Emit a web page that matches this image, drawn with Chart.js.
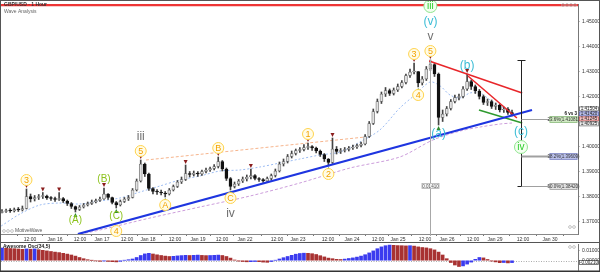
<!DOCTYPE html>
<html><head><meta charset="utf-8">
<script src="https://cdn.jsdelivr.net/npm/chart.js@4.4.1/dist/chart.umd.min.js"></script>
<style>
html,body{margin:0;padding:0;background:#fff;}
#wrap{position:relative;width:600px;height:272px;overflow:hidden;background:#fff;}
#c1{position:absolute;left:0;top:0;}
#c2{position:absolute;left:0;top:243px;}
</style></head><body>
<div id="wrap"><canvas id="c1" width="600" height="243"></canvas><canvas id="c2" width="600" height="29"></canvas></div>
<script>
// ---------------- DATA ----------------
const firstOpen = 1.3736;
const closes = [
1.3740,1.3744,1.3742,1.3748,1.3746,1.3752,1.3800,1.3790,1.3796,1.3800,
1.3802,1.3794,1.3792,1.3788,1.3792,1.3782,1.3772,1.3760,1.3748,1.3758,
1.3766,1.3772,1.3778,1.3784,1.3790,1.3810,1.3796,1.3776,1.3766,1.3780,
1.3790,1.3796,1.3826,1.3862,1.3930,1.3890,1.3832,1.3820,1.3818,1.3814,
1.3810,1.3826,1.3840,1.3858,1.3868,1.3892,1.3888,1.3894,1.3890,1.3900,
1.3906,1.3912,1.3920,1.3940,1.3910,1.3872,1.3840,1.3850,1.3862,1.3870,
1.3878,1.3884,1.3872,1.3868,1.3862,1.3872,1.3884,1.3902,1.3930,1.3940,
1.3960,1.3972,1.3984,1.3988,1.3996,1.4000,1.3994,1.3982,1.3968,1.3950,
1.3936,1.3990,1.3980,1.3984,1.3988,1.3994,1.3998,1.4004,1.4010,1.4040,
1.4092,1.4140,1.4180,1.4210,1.4224,1.4212,1.4226,1.4240,1.4256,1.4284,
1.4298,1.4300,1.4254,1.4270,1.4310,1.4328,1.4290,1.4116,1.4130,1.4152,
1.4180,1.4196,1.4200,1.4230,1.4260,1.4240,1.4222,1.4200,1.4176,1.4180,
1.4160,1.4166,1.4146,1.4150,1.4136,1.4128];
const highs = [
1.3748,1.3750,1.3752,1.3754,1.3756,1.3762,1.3830,1.3810,1.3804,1.3808,
1.3816,1.3806,1.3800,1.3798,1.3816,1.3796,1.3786,1.3776,1.3762,1.3764,
1.3772,1.3778,1.3786,1.3790,1.3798,1.3834,1.3812,1.3798,1.3780,1.3786,
1.3796,1.3804,1.3832,1.3870,1.3946,1.3934,1.3894,1.3836,1.3828,1.3826,
1.3820,1.3832,1.3846,1.3864,1.3878,1.3926,1.3900,1.3902,1.3900,1.3906,
1.3914,1.3918,1.3928,1.3958,1.3944,1.3914,1.3876,1.3858,1.3868,1.3878,
1.3886,1.3910,1.3888,1.3876,1.3872,1.3878,1.3890,1.3910,1.3938,1.3950,
1.3968,1.3982,1.3990,1.3996,1.4008,1.4014,1.4004,1.3998,1.3986,1.3972,
1.3952,1.4034,1.4000,1.3992,1.3996,1.4000,1.4006,1.4010,1.4018,1.4048,
1.4100,1.4150,1.4190,1.4218,1.4236,1.4230,1.4234,1.4250,1.4264,1.4290,
1.4310,1.4334,1.4300,1.4280,1.4320,1.4346,1.4332,1.4294,1.4146,1.4160,
1.4188,1.4206,1.4210,1.4240,1.4290,1.4266,1.4246,1.4228,1.4206,1.4190,
1.4186,1.4174,1.4170,1.4158,1.4156,1.4146];
const lows = [
1.3734,1.3736,1.3736,1.3738,1.3740,1.3742,1.3750,1.3778,1.3782,1.3788,
1.3792,1.3788,1.3784,1.3780,1.3784,1.3776,1.3764,1.3752,1.3738,1.3744,
1.3754,1.3762,1.3768,1.3774,1.3780,1.3788,1.3788,1.3770,1.3754,1.3762,
1.3776,1.3784,1.3794,1.3822,1.3858,1.3880,1.3824,1.3810,1.3808,1.3806,
1.3798,1.3806,1.3822,1.3836,1.3852,1.3864,1.3878,1.3882,1.3880,1.3884,
1.3894,1.3900,1.3906,1.3914,1.3902,1.3864,1.3826,1.3834,1.3844,1.3856,
1.3862,1.3870,1.3866,1.3860,1.3856,1.3858,1.3866,1.3878,1.3898,1.3922,
1.3934,1.3954,1.3966,1.3976,1.3982,1.3988,1.3984,1.3974,1.3960,1.3940,
1.3922,1.3932,1.3970,1.3972,1.3978,1.3982,1.3988,1.3992,1.3998,1.4006,
1.4036,1.4088,1.4134,1.4172,1.4200,1.4204,1.4206,1.4220,1.4234,1.4250,
1.4276,1.4290,1.4238,1.4246,1.4264,1.4304,1.4280,1.4086,1.4100,1.4122,
1.4146,1.4174,1.4186,1.4194,1.4224,1.4228,1.4212,1.4190,1.4168,1.4164,
1.4152,1.4148,1.4138,1.4136,1.4128,1.4122];
const aoValues = [
0.0125,0.0123,0.0120,0.0118,0.0115,0.0112,0.0116,0.0113,0.0116,0.0108,
0.0102,0.0096,0.0090,0.0084,0.0079,0.0072,0.0064,0.0055,0.0044,0.0030,
0.0018,0.0008,0.0001,-0.0004,-0.0008,-0.0005,-0.0009,-0.0012,-0.0014,-0.0008,
0.0002,0.0008,0.0015,0.0030,0.0050,0.0066,0.0072,0.0065,0.0057,0.0050,
0.0044,0.0040,0.0042,0.0046,0.0049,0.0052,0.0050,0.0052,0.0054,0.0051,
0.0049,0.0050,0.0052,0.0054,0.0050,0.0040,0.0024,0.0005,-0.0006,-0.0010,
-0.0013,-0.0012,-0.0010,-0.0012,-0.0016,-0.0018,-0.0010,0.0002,0.0015,0.0028,
0.0040,0.0052,0.0063,0.0070,0.0073,0.0072,0.0068,0.0060,0.0048,0.0036,
0.0024,0.0018,0.0012,0.0010,0.0014,0.0020,0.0026,0.0034,0.0044,0.0058,
0.0076,0.0096,0.0118,0.0136,0.0148,0.0154,0.0152,0.0149,0.0148,0.0146,
0.0148,0.0144,0.0136,0.0130,0.0126,0.0118,0.0106,0.0084,0.0055,0.0018,
-0.0020,-0.0045,-0.0060,-0.0054,-0.0036,-0.0016,0.0012,0.0030,0.0026,0.0010,
-0.0006,-0.0014,-0.0022,-0.0020,-0.0024,-0.0021];

const tickPos = [6.86,12.99,19.12,24.51,30.64,35.78,42.4,48.04,53.92,59.56,67.4,72.55,79.9,85.78,92.16,97.06,103.68,109.07,115.44,120.83,127.7,134.3];
const tickLabels = ['12:00','Jan 16','12:00','Jan 17','12:00','Jan 18','12:00','Jan 19','12:00','Jan 22','12:00','Jan 23','12:00','Jan 24','12:00','Jan 25','12:00','Jan 26','12:00','Jan 29','12:00','Jan 30'];

const maFastX = [-0.2,4.4,9.3,14.2,19.1,24,28.9,33.8,38.7,43.6,48.5,53.4,58.3,63.2,68.1,73,77.9,82.8,87.7,92.6,97.5,101.2,104.9,107.4,109.8,112.3,114.7,117.2,119.6,122.1,125];
const maFastY = [1.3682,1.3730,1.3766,1.3774,1.3770,1.3782,1.3794,1.3818,1.3842,1.3866,1.3882,1.3902,1.3906,1.3918,1.3934,1.3950,1.3966,1.3978,1.4018,1.4066,1.4154,1.4206,1.4258,1.4242,1.4206,1.4194,1.4214,1.4214,1.4186,1.4162,1.4138];
const maSlowX = [16.7,24,36.3,48.5,60.8,73,85.3,97.5,105.6,112.3,117.2,122.1,125];
const maSlowY = [1.3642,1.3666,1.3714,1.3758,1.3802,1.3854,1.3914,1.3958,1.4026,1.4062,1.4078,1.4090,1.4094];

const trendBlueX = [18.6,129.9], trendBlueY = [1.3650,1.4146];
const orangeX = [35.3,89], orangeY = [1.3946,1.4038];
const red1X = [104.7,127.5], red1Y = [1.4342,1.4214];
const red2X = [114.2,126.2], red2Y = [1.4282,1.4114];
const greenX = [116.9,127.5], greenY = [1.4146,1.4094];
const resistance = 1.4566;

const markHigh = [6,10,14,25,34,45,53,61,75,81,101,105,114];
const markLow = [18,28,40,56,80,102,107];

const waveIdx  = [6,18,25,28,34,40,53,56,75,80,101,102,105,107,114];
const waveSide = ['H','L','H','L','H','L','H','L','H','L','H','L','H','L','H'];
const waveText = [['3'],['(A)'],['(B)'],['(C)','4'],['5','iii'],['A'],['B'],['C','iv'],['1'],['2'],['3'],['4'],['5','v','(v)','iii'],['(a)'],['(b)']];
const waveDeg  = [['o'],['G'],['G'],['G','o'],['o','r'],['o'],['o'],['o','r'],['o'],['o'],['o'],['o'],['o','r','c','g'],['c'],['c']];
const projIdx = 127.2, projPrice = [1.4062,1.3998], projText = ['(c)','iv'], projDeg = ['c','g'];

const fibIdx = 127.2, fibTop = 1.4346, fibBase = 1.3338;
const fibLevels = [0.236,0.382,0.5];
const priceTags = [1.41504,1.41420,1.41245,1.40925];
const yMin = 1.365, yMax = 1.457;
const xMin = -0.245, xMax = 141.175;

// ---------------- helpers ----------------
const FONT = '"Liberation Sans", Arial, sans-serif';
const opens = closes.map((c,i)=> i===0 ? firstOpen : closes[i-1]);
const pts = (xs,ys)=> xs.map((x,i)=>({x:x, y:ys[i]}));
const DEG = {
  o:{circle:true,r:5.5,fill:'#fffce8',ring:'#ffd34d',color:'#f3a200',font:'9px '+FONT},
  G:{circle:false,color:'#8cc21c',font:'10px '+FONT},
  r:{circle:false,color:'#707070',font:'12px '+FONT},
  c:{circle:false,color:'#3dbdd6',font:'12px '+FONT},
  g:{circle:true,r:6.5,fill:'#f3fff0',ring:'#8fe48f',color:'#2ccc2c',font:'10px '+FONT}
};
function drawLabel(ctx,x,y,t,d){
  const s = DEG[d];
  if(s.circle){ctx.beginPath();ctx.arc(x,y,s.r,0,Math.PI*2);ctx.fillStyle=s.fill;ctx.fill();ctx.lineWidth=1;ctx.strokeStyle=s.ring;ctx.stroke();}
  ctx.font=s.font;ctx.fillStyle=s.color;ctx.textAlign='center';ctx.textBaseline='middle';ctx.fillText(t,x,y+0.5);
}
function tri(ctx,x,y,down,col){
  ctx.beginPath();
  if(down){ctx.moveTo(x-2,y-4);ctx.lineTo(x+2,y-4);ctx.lineTo(x,y);}else{ctx.moveTo(x-2,y+4);ctx.lineTo(x+2,y+4);ctx.lineTo(x,y);}
  ctx.closePath();ctx.fillStyle=col;ctx.fill();
}
function box(ctx,x,y,w,h,fill,stroke,text,tcol,align){
  ctx.fillStyle=fill;ctx.fillRect(x,y,w,h);ctx.strokeStyle=stroke;ctx.lineWidth=0.7;ctx.strokeRect(x+0.5,y+0.5,w-1,h-1);
  ctx.fillStyle=tcol;ctx.font='4.5px '+FONT;ctx.textBaseline='middle';ctx.textAlign=align||'center';
  ctx.fillText(text, align==='left'? x+2 : x+w/2, y+h/2+0.3);
}
function icons(ctx,x,y,n){ctx.strokeStyle='#aaa';ctx.lineWidth=0.7;for(let k=0;k<n;k++){ctx.beginPath();ctx.arc(x+k*4,y,1.4,0,Math.PI*2);ctx.stroke();}}

const overlay = {
  id:'overlay',
  afterDatasetsDraw(chart){
    const ctx=chart.ctx, xs=chart.scales.x, ys=chart.scales.y, ca=chart.chartArea;
    const X=v=>xs.getPixelForValue(v), Y=v=>ys.getPixelForValue(v);
    ctx.save();
    const vx=Math.round(X(105))+0.5;
    ctx.strokeStyle='#a8a8a8';ctx.lineWidth=1;ctx.beginPath();ctx.moveTo(vx,Y(highs[105]));ctx.lineTo(vx,ca.bottom+2);ctx.stroke();
    box(ctx,vx-9,Y(1.3842)-3,18,6,'#f4f4f4','#aaa','0.01410','#555');
    const fx=Math.round(X(fibIdx))+0.5;
    const lv=fibLevels.map(l=>fibTop-(fibTop-fibBase)*l);
    ctx.strokeStyle='#222';ctx.lineWidth=1;ctx.beginPath();
    ctx.moveTo(fx,Y(fibTop));ctx.lineTo(fx,Y(lv[2]));
    ctx.moveTo(fx-4,Math.round(Y(fibTop))+0.5);ctx.lineTo(fx+4,Math.round(Y(fibTop))+0.5);
    ctx.moveTo(fx-4,Math.round(Y(lv[2]))+0.5);ctx.lineTo(fx+4,Math.round(Y(lv[2]))+0.5);
    ctx.stroke();
    const fills=['#cfe9c2','#b9bfe9','#e2e2e2'], strokes=['#86b57a','#8088c0','#9a9a9a'];
    lv.forEach((p,k)=>{
      const yy=Math.round(Y(p))+0.5;
      ctx.strokeStyle='#a0a0a0';ctx.lineWidth=k===1?2:1;ctx.beginPath();ctx.moveTo(fx,yy);ctx.lineTo(fx+28,yy);ctx.stroke();
      box(ctx,fx+28,yy-3.5,28,7,fills[k],strokes[k],(fibLevels[k]*100).toFixed(1)+'%('+p.toFixed(5)+')','#333');
    });
    ctx.fillStyle='#111';ctx.font='bold 4.5px '+FONT;ctx.textAlign='right';ctx.textBaseline='bottom';
    ctx.fillText('6 vs 3',ca.right-1,Math.round(Y(lv[0]))-3);
    markHigh.forEach(i=>tri(ctx,X(i),Y(highs[i])-1,true,'#8a1d1d'));
    markLow.forEach(i=>tri(ctx,X(i),Y(lows[i])+1,false,'#2e8a2e'));
    waveIdx.forEach((i,k)=>{
      const hi=waveSide[k]==='H'; const base=hi?Y(highs[i]):Y(lows[i]);
      waveText[k].forEach((t,j)=>{const yy=hi?base-9-15*j:base+8+15*j;drawLabel(ctx,X(i),yy,t,waveDeg[k][j]);});
    });
    projText.forEach((t,j)=>drawLabel(ctx,X(projIdx),Y(projPrice[j]),t,projDeg[j]));
    const tagFill=['#ffffff','#b9bfe9','#f3c4c4','#eeeeee'], tagStroke=['#555','#5a62a8','#c05050','#777'];
    let prev=-99;
    priceTags.forEach((p,k)=>{
      let yy=Y(p); if(yy<prev+5) yy=prev+5; prev=yy;
      box(ctx,ca.right+1,yy-2.5,20,5,tagFill[k],tagStroke[k],p.toFixed(5),'#222');
    });
    ctx.textAlign='left';ctx.textBaseline='middle';
    ctx.fillStyle='#333';ctx.font='bold 5px '+FONT;ctx.fillText('GBP/USD - 1 Hour',4,4.5);
    ctx.fillStyle='#666';ctx.font='5px '+FONT;ctx.fillText('Wave Analysis',4,12);
    icons(ctx,4,231,3);ctx.fillStyle='#555';ctx.font='5px '+FONT;ctx.fillText('MotiveWave',15,231);
    icons(ctx,563,5,4);icons(ctx,570,227,2);
    ctx.strokeStyle='#555';ctx.lineWidth=1;ctx.beginPath();
    ctx.moveTo(0.5,0);ctx.lineTo(0.5,243);ctx.moveTo(599.5,0);ctx.lineTo(599.5,243);
    ctx.moveTo(0,0.5);ctx.lineTo(600,0.5);ctx.moveTo(0,242.5);ctx.lineTo(600,242.5);ctx.stroke();
    ctx.restore();
  }
};

const lineDs=(xs,ys,col,w,dash,order)=>({type:'line',data:pts(xs,ys),borderColor:col,borderWidth:w,borderDash:dash||[],pointRadius:0,fill:false,tension:dash?0.3:0,order:order});

const mainChart = new Chart(document.getElementById('c1'),{
  type:'bar',
  data:{datasets:[
    lineDs([xMin,xMax],[resistance,resistance],'#ee3535',2.5,null,1),
    lineDs(trendBlueX,trendBlueY,'#1e35e0',2.2,null,1),
    lineDs(red1X,red1Y,'#e8262a',1.5,null,1),
    lineDs(red2X,red2Y,'#e8262a',1.5,null,1),
    lineDs(greenX,greenY,'#2f9a2f',1.5,null,1),
    {type:'bar',grouped:false,order:2,barThickness:3,minBarLength:1,
     data:closes.map((c,i)=>({x:i,y:[opens[i],c]})),
     backgroundColor:ctx=>closes[ctx.dataIndex]>=opens[ctx.dataIndex]?'#e2e2e2':'#111',
     borderColor:ctx=>closes[ctx.dataIndex]>=opens[ctx.dataIndex]?'#707070':'#111',
     borderWidth:0.8,borderSkipped:false},
    {type:'bar',grouped:false,order:3,barThickness:1,
     data:closes.map((c,i)=>({x:i,y:[lows[i],highs[i]]})),backgroundColor:'#444'},
    lineDs(orangeX,orangeY,'#f6b48c',1,[3,2],4),
    lineDs(maFastX,maFastY,'#9cbcf2',1,[2,2],4),
    lineDs(maSlowX,maSlowY,'#cc9ddb',1,[3,2],4)
  ]},
  options:{
    responsive:false,animation:false,events:[],
    layout:{padding:{left:1,right:1,top:4,bottom:0}},
    plugins:{legend:{display:false},tooltip:{enabled:false}},
    scales:{
      x:{type:'linear',min:xMin,max:xMax,offset:false,
        afterBuildTicks:s=>{s.ticks=tickPos.map(v=>({value:v}));},
        afterFit:s=>{s.height=9;s.paddingLeft=0;s.paddingRight=0;},
        ticks:{autoSkip:false,maxRotation:0,minRotation:0,padding:1,color:'#333',font:{family:'Liberation Sans',size:5},
          callback:(v,i)=>tickLabels[i]},
        grid:{drawOnChartArea:false,drawTicks:true,tickLength:2,color:'#777'},
        border:{display:true,color:'#888'}},
      y:{type:'linear',position:'right',min:yMin,max:yMax,
        afterBuildTicks:s=>{const t=[];for(let k=1365;k<=1457;k++)t.push({value:k/1000});s.ticks=t;},
        afterFit:s=>{s.width=21;s.paddingTop=0;s.paddingBottom=0;},
        ticks:{autoSkip:false,padding:2,color:'#333',font:{family:'Liberation Sans',size:5},
          callback:v=>{const r=Math.round(v*100);return Math.abs(v*100-r)<1e-6?v.toFixed(5):null;}},
        grid:{drawOnChartArea:false,drawTicks:true,tickLength:2,color:'#999',lineWidth:0.6},
        border:{display:true,color:'#777'}}
    }
  },
  plugins:[overlay]
});

const oscOverlay = {
  id:'oscOverlay',
  beforeDatasetsDraw(chart){
    const ctx=chart.ctx, ys=chart.scales.y, ca=chart.chartArea;
    const y0=Math.round(ys.getPixelForValue(0))+0.5;
    ctx.save();ctx.strokeStyle='#888';ctx.lineWidth=0.7;ctx.setLineDash([1,1.5]);
    ctx.beginPath();ctx.moveTo(ca.left,y0);ctx.lineTo(ca.right,y0);ctx.stroke();ctx.restore();
  },
  afterDatasetsDraw(chart){
    const ctx=chart.ctx, ys=chart.scales.y, ca=chart.chartArea;
    ctx.save();
    ctx.fillStyle='#222';ctx.font='bold 5px '+FONT;ctx.textAlign='left';ctx.textBaseline='middle';
    ctx.fillText('Awesome Osc(34,5)',3,3.5);
    const last=aoValues[aoValues.length-1];
    box(ctx,ca.right+1,ys.getPixelForValue(last)-2.5,20,5,'#ffffff','#444',last.toFixed(5),'#222');
    icons(ctx,570,4,2);
    ctx.strokeStyle='#555';ctx.lineWidth=1;ctx.beginPath();
    ctx.moveTo(0.5,0);ctx.lineTo(0.5,29);ctx.moveTo(599.5,0);ctx.lineTo(599.5,29);ctx.stroke();
    ctx.strokeStyle='#333';ctx.lineWidth=1.5;ctx.beginPath();ctx.moveTo(0,28.2);ctx.lineTo(600,28.2);ctx.stroke();
    ctx.restore();
  }
};

const oscChart = new Chart(document.getElementById('c2'),{
  type:'bar',
  data:{datasets:[{grouped:false,barThickness:3,
    data:aoValues.map((v,i)=>({x:i,y:v})),
    backgroundColor:ctx=>{const i=ctx.dataIndex;return (i===0||aoValues[i]>=aoValues[i-1])?'#3b3bef':'#a83232';}}]},
  options:{
    responsive:false,animation:false,events:[],
    layout:{padding:{left:1,right:1,top:1,bottom:2}},
    plugins:{legend:{display:false},tooltip:{enabled:false}},
    scales:{
      x:{type:'linear',min:xMin,max:xMax,offset:false,display:false},
      y:{type:'linear',position:'right',min:-0.0095,max:0.0165,
        afterBuildTicks:s=>{const t=[];for(let k=-9;k<=16;k++)t.push({value:k/1000});s.ticks=t;},
        afterFit:s=>{s.width=21;s.paddingTop=0;s.paddingBottom=0;},
        ticks:{autoSkip:false,padding:2,color:'#333',font:{family:'Liberation Sans',size:5},
          callback:v=>{const r=Math.round(v*100);return Math.abs(v*100-r)<1e-6?(Math.abs(v)<1e-9?0:v).toFixed(5):null;}},
        grid:{drawOnChartArea:false,drawTicks:true,tickLength:2,color:'#999',lineWidth:0.6},
        border:{display:true,color:'#777'}}
    }
  },
  plugins:[oscOverlay]
});
</script>
</body></html>
